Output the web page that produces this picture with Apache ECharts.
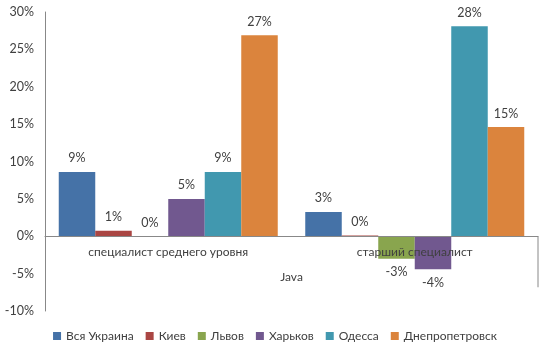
<!DOCTYPE html>
<html>
<head>
<meta charset="utf-8">
<script src="https://cdn.jsdelivr.net/npm/echarts@6/dist/echarts.min.js"></script>
<style>
  html, body { margin: 0; padding: 0; background: #fff; }
  #chart { width: 550px; height: 353px; }
</style>
</head>
<body>
<div id="chart"></div>
<script>
// Java: salary change by city, two levels
const categories = ["специалист среднего уровня", "старший специалист"];
const groupLabel = "Java";
const cities = ["Вся Украина", "Киев", "Львов", "Харьков", "Одесса", "Днепропетровск"];
const colors = ["#4572A7", "#AA4643", "#89A54E", "#71588F", "#4198AF", "#DB843D"];

const vsyaUkraina = [8.6, 3.25];
const kiev = [0.75, 0.1];
const lvov = [0, -3.0];
const kharkov = [5.0, -4.4];
const odessa = [8.6, 28.1];
const dnepr = [26.9, 14.6];
const seriesValues = [vsyaUkraina, kiev, lvov, kharkov, odessa, dnepr];

const yTicks = { min: -10, max: 30, interval: 5 };

const textColor = "#404040";
const font = "Lato, 'Open Sans', sans-serif";

const W = 550, H = 353;
const gridBox = { left: 45, right: 12, top: 12, bottom: 42 };
// category axis sits on the 0% line
const plotH = H - gridBox.top - gridBox.bottom;
const zeroOffset = -plotH * (0 - yTicks.min) / (yTicks.max - yTicks.min);

const chart = echarts.init(document.getElementById("chart"), null, { renderer: "canvas" });

const option = {
  animation: false,
  textStyle: { fontFamily: font },
  grid: Object.assign({ containLabel: false, outerBoundsMode: "none" }, gridBox),
  xAxis: {
    type: "category",
    data: categories,
    position: "bottom",
    offset: zeroOffset,
    z: 10,
    name: groupLabel,
    nameLocation: "middle",
    nameGap: 35,
    nameTextStyle: { color: textColor, fontSize: 12, fontFamily: font },
    axisLine: { onZero: false, lineStyle: { color: "#888", width: 1 } },
    axisTick: { show: false },
    axisLabel: { color: textColor, fontSize: 12, fontFamily: font, margin: 10 },
    splitLine: { show: false },
  },
  yAxis: {
    type: "value",
    min: yTicks.min,
    max: yTicks.max,
    interval: yTicks.interval,
    axisLine: { show: true, lineStyle: { color: "#888", width: 1 } },
    axisTick: { show: false },
    splitLine: { show: false },
    axisLabel: {
      color: textColor,
      fontSize: 12.5,
      fontFamily: font,
      margin: 11,
      formatter: (v) => v + "%",
    },
  },
  legend: {
    bottom: 6,
    left: "center",
    itemWidth: 8,
    itemHeight: 8,
    itemGap: 12,
    icon: "rect",
    textStyle: { color: textColor, fontSize: 12, fontFamily: font },
    data: cities,
  },
  series: seriesValues.map((values, i) => ({
    type: "bar",
    name: cities[i],
    barWidth: 36.5,
    barGap: "0%",
    itemStyle: { color: colors[i] },
    emphasis: { disabled: true },
    data: values.map((v) => ({
      value: v,
      label: { position: v < 0 ? "bottom" : "top" },
    })),
    label: {
      show: true,
      distance: 7,
      color: textColor,
      fontSize: 12.5,
      fontFamily: font,
      formatter: (p) => Math.round(p.value) + "%",
    },
  })),
};

chart.setOption(option);

// outer boundary tick of the multi-level category axis
const zeroY = chart.convertToPixel({ yAxisIndex: 0 }, 0);
const rightX = W - gridBox.right;
chart.setOption({
  graphic: [{
    type: "line",
    shape: { x1: rightX, y1: zeroY, x2: rightX, y2: zeroY + 51 },
    style: { stroke: "#888", lineWidth: 1 },
    silent: true,
  }],
});
</script>
</body>
</html>
